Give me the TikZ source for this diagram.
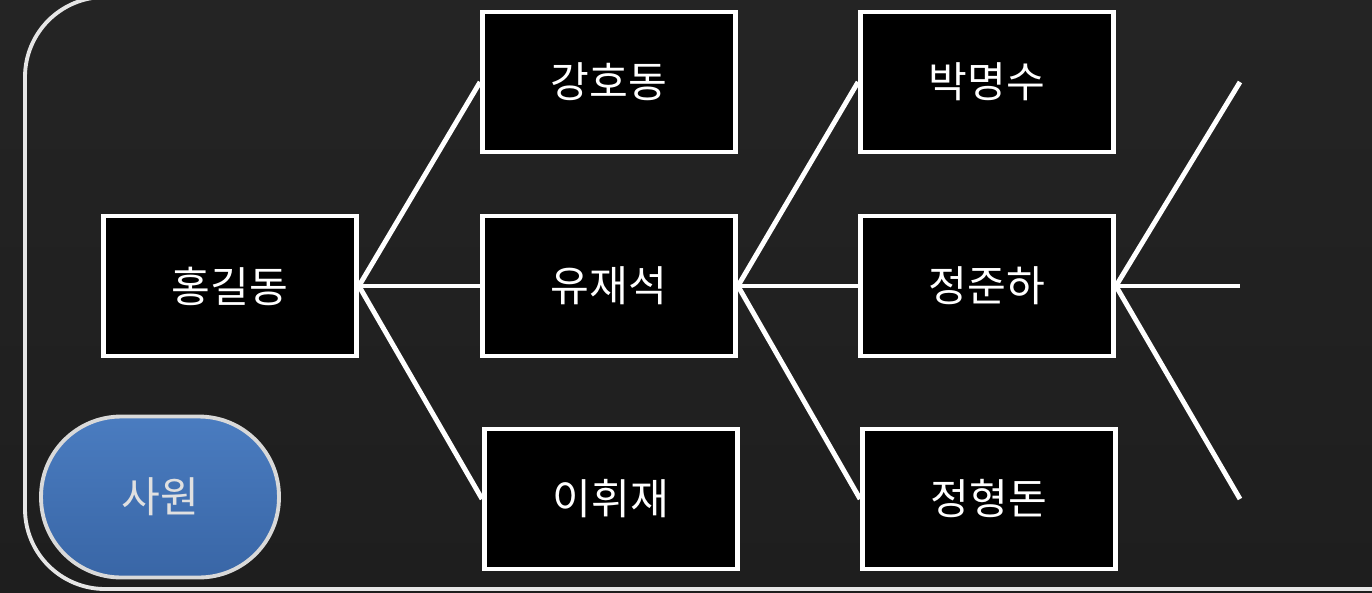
\documentclass[tikz,border=0pt]{standalone}
\usepackage{fontspec}
\newfontfamily\korfont{Noto Sans CJK KR}
\usetikzlibrary{positioning}
\definecolor{Stage}{HTML}{242424}
\definecolor{StageLow}{HTML}{1E1E1E}
\definecolor{Rim}{HTML}{E6E6E6}
\definecolor{RoleTop}{HTML}{4A7CC0}
\definecolor{RoleBot}{HTML}{3966A6}
\definecolor{RoleRim}{HTML}{D9D9D9}

\begin{document}
\begin{tikzpicture}[
  x=0.02cm,y=-0.02cm,
  person/.style={draw=white,fill=black,line width=2.8pt,
    minimum width=5.06cm,minimum height=2.8cm,inner sep=0pt,
    text=white,font=\korfont\fontsize{24}{28}\selectfont},
  role/.style={draw=RoleRim,line width=2.2pt,rounded corners=1.6cm,
    top color=RoleTop,bottom color=RoleBot,
    minimum width=4.76cm,minimum height=3.22cm,inner sep=0pt,
    text=white!88!black,font=\korfont\fontsize{24}{28}\selectfont},
  link/.style={draw=white,line width=2.8pt},
  frame/.style={draw=Rim,line width=2.2pt,rounded corners=1.6cm}
]
\useasboundingbox[top color=Stage,bottom color=StageLow,draw=none]
  (0,0) rectangle (1372,592);
\begin{scope}
\clip (0,0) rectangle (1372,592);
\draw[frame] (25,-3) rectangle (1450,589);
\end{scope}
% first level
\node[person] (hong) at (230,286) {홍길동};
\node[person] (kang) at (609,82) {강호동};
\node[person] (yoo) at (609,286) {유재석};
\node[person] (lee) at (611,499) {이휘재};
% second level
\node[person] (park) at (987,82) {박명수};
\node[person] (jung) at (987,286) {정준하};
\node[person] (hyung) at (989,499) {정형돈};
% open branches on the right
\coordinate (upper) at (1240,82);
\coordinate (middle) at (1240,286);
\coordinate (lower) at (1240,499);
\draw[link] (hong.east)--(kang.west);
\draw[link] (hong.east)--(yoo.west);
\draw[link] (hong.east)--(lee.west);
\draw[link] (yoo.east)--(park.west);
\draw[link] (yoo.east)--(jung.west);
\draw[link] (yoo.east)--(hyung.west);
\draw[link] (jung.east)--(upper);
\draw[link] (jung.east)--(middle);
\draw[link] (jung.east)--(lower);
\node[role] (staff) at (160,497) {사원};
\end{tikzpicture}
\end{document}
